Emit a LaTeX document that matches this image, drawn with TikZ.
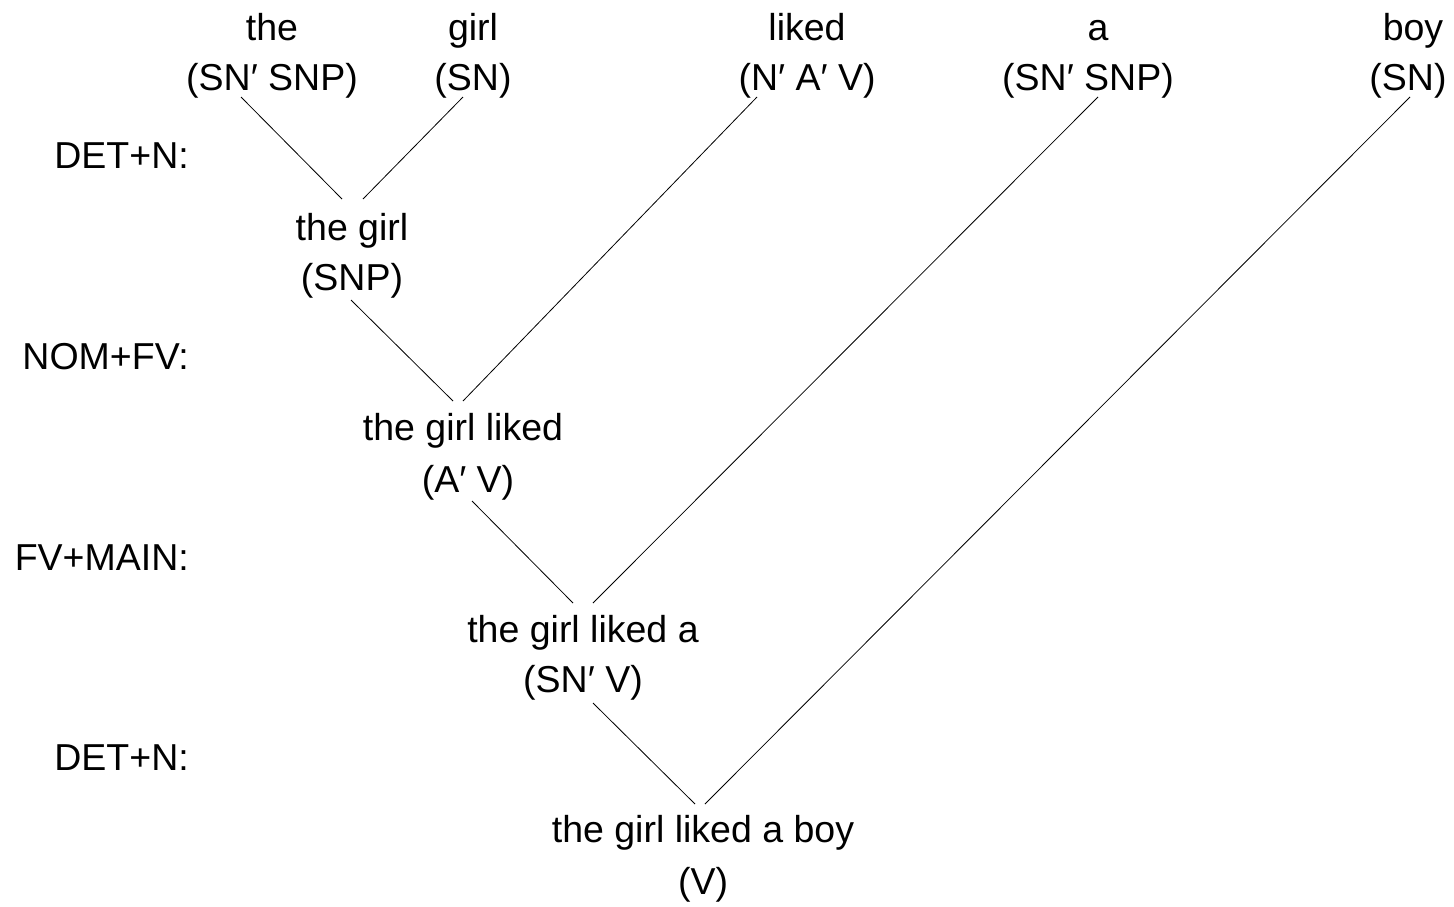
\documentclass[tikz,border=0pt]{standalone}
\usepackage{fontspec}
\setmainfont{Liberation Sans}
\begin{document}
\begin{tikzpicture}[x=1pt,y=-1pt,
  txt/.style={inner sep=0pt, anchor=base, font=\fontsize{37.5}{45}\selectfont},
  lbl/.style={inner sep=0pt, anchor=base east, font=\fontsize{37.5}{45}\selectfont},
  conn/.style={draw=black, line width=0.8pt}]
\useasboundingbox (0,0) rectangle (1454,906);
% top row
\node[txt] (w1) at (272,40) {the};
\node[txt] (c1) at (272,90) {(SN′ SNP)};
\node[txt] (w2) at (473,40) {girl};
\node[txt] (c2) at (473,90) {(SN)};
\node[txt] (w3) at (807,40) {liked};
\node[txt] (c3) at (807,90) {(N′ A′ V)};
\node[txt] (w4) at (1098,40) {a};
\node[txt] (c4) at (1088,90) {(SN′ SNP)};
\node[txt] (w5) at (1413,40) {boy};
\node[txt] (c5) at (1408,90) {(SN)};
% derived
\node[txt] (w6) at (352,240) {the girl};
\node[txt] (c6) at (352,290) {(SNP)};
\node[txt] (w7) at (463,440) {the girl liked};
\node[txt] (c7) at (468,492) {(A′ V)};
\node[txt] (w8) at (583,642) {the girl liked a};
\node[txt] (c8) at (583,692) {(SN′ V)};
\node[txt] (w9) at (703,842) {the girl liked a boy};
\node[txt] (c9) at (703,894) {(V)};
% rule labels
\node[lbl] (r1) at (189,168) {DET+N:};
\node[lbl] (r2) at (189,369) {NOM+FV:};
\node[lbl] (r3) at (189,570) {FV+MAIN:};
\node[lbl] (r4) at (189,770) {DET+N:};
% connectors
\draw[conn] ([shift={(-31,7)}]c1.base) -- ([shift={(-10,-41)}]w6.base);
\draw[conn] ([shift={(-10,7)}]c2.base) -- ([shift={(11,-41)}]w6.base);
\draw[conn] ([shift={(-1,10)}]c6.base) -- ([shift={(-10,-39)}]w7.base);
\draw[conn] ([shift={(-50,7)}]c3.base) -- ([shift={(0,-39)}]w7.base);
\draw[conn] ([shift={(4,9)}]c7.base) -- ([shift={(-10,-39)}]w8.base);
\draw[conn] ([shift={(10,7)}]c4.base) -- ([shift={(10,-39)}]w8.base);
\draw[conn] ([shift={(10,11)}]c8.base) -- ([shift={(-8,-38)}]w9.base);
\draw[conn] ([shift={(2,7)}]c5.base) -- ([shift={(2,-38)}]w9.base);
\end{tikzpicture}
\end{document}
